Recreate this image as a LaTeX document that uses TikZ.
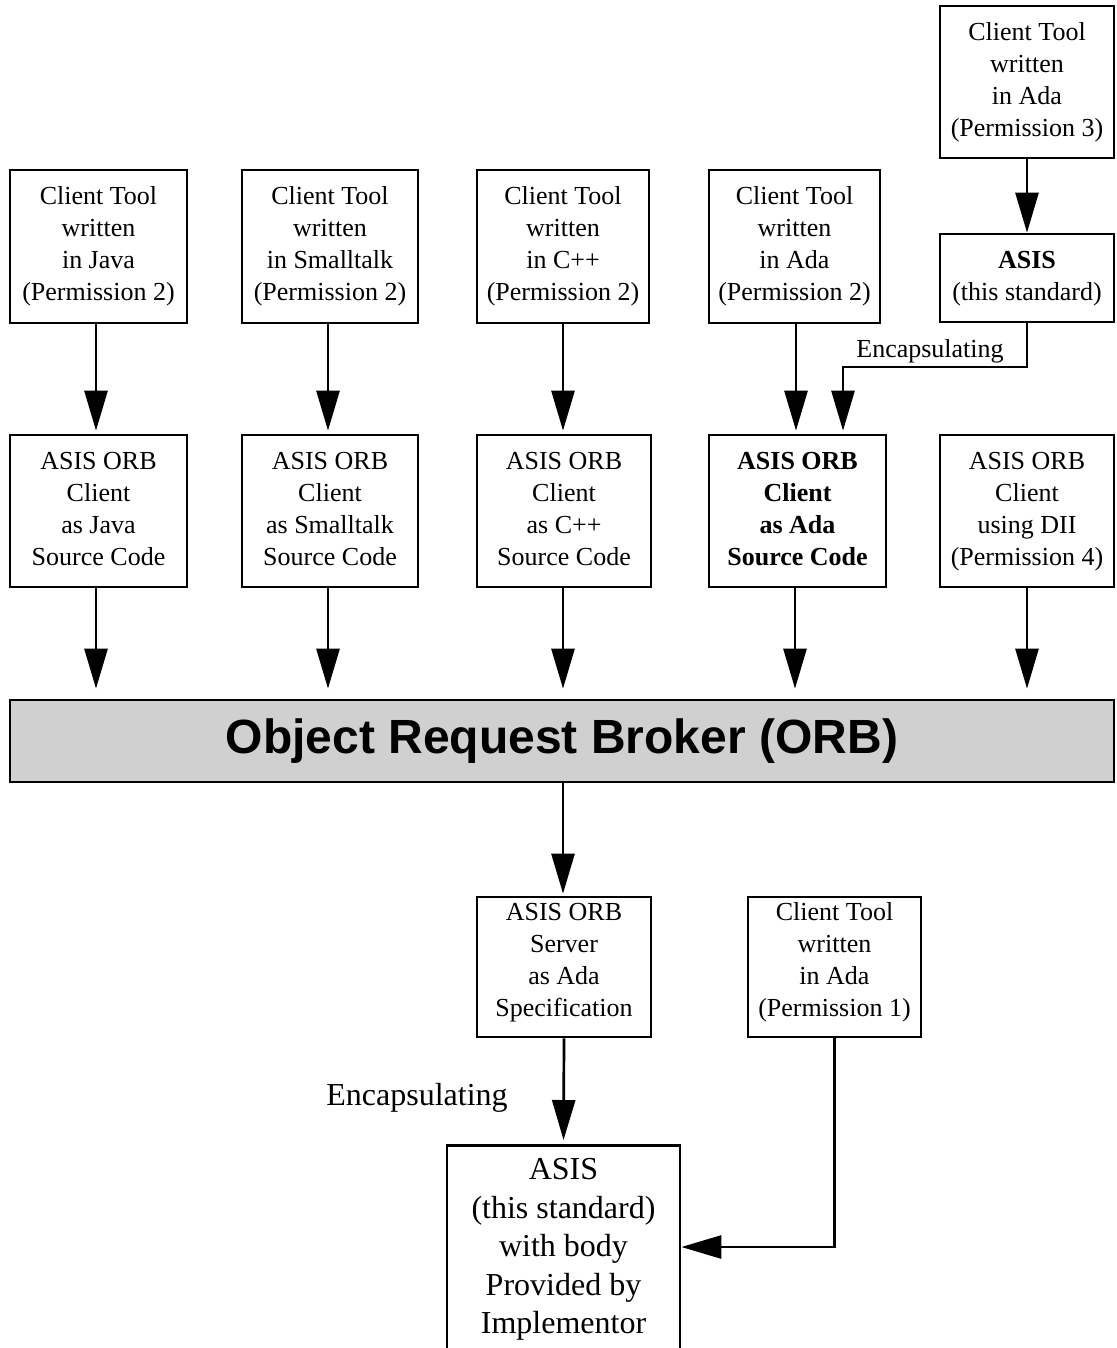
\documentclass[tikz,border=0pt]{standalone}
\usepackage{fontspec}
\setmainfont{Liberation Serif}
\newfontfamily\orbfont{Liberation Sans}
\usetikzlibrary{arrows.meta}
\begin{document}
\begin{tikzpicture}[x=1pt,y=-1pt,
  box/.style={draw,line width=2.7pt,inner sep=0pt,align=center,
    font=\fontsize{26}{32}\selectfont},
  txt/.style={inner sep=0pt,align=center,font=\fontsize{26}{32}\selectfont},
  lbl/.style={inner sep=0pt,font=\fontsize{26}{32}\selectfont},
  conn/.style={line width=2.7pt},
  arr/.style={conn,-{Triangle[length=40pt,width=23pt]}}]
\clip (0,0) rectangle (1116,1348);
\fill[white] (0,0) rectangle (1116,1348);
% top row
\node[box,minimum width=177,minimum height=153] (java1) at (98.5,246.5) {\strut Client Tool\\written\\in Java\\(Permission 2)\strut};
\node[box,minimum width=176,minimum height=153] (small1) at (330,246.5) {\strut Client Tool\\written\\in Smalltalk\\(Permission 2)\strut};
\node[box,minimum width=172,minimum height=153] (cpp1) at (563,246.5) {\strut Client Tool\\written\\in C++\\(Permission 2)\strut};
\node[box,minimum width=171,minimum height=153] (ada1) at (794.5,246.5) {\strut Client Tool\\written\\in Ada\\(Permission 2)\strut};
\node[box,minimum width=174,minimum height=152] (perm3) at (1027,82) {\strut Client Tool\\written\\in Ada\\(Permission 3)\strut};
\node[box,minimum width=174,minimum height=88] (asis) at (1027,278) {\strut\textbf{ASIS}\\(this standard)\strut};
% second row
\node[box,minimum width=177,minimum height=152] (java2) at (98.5,511) {\strut ASIS ORB\\Client\\as Java\\Source Code\strut};
\node[box,minimum width=176,minimum height=152] (small2) at (330,511) {\strut ASIS ORB\\Client\\as Smalltalk\\Source Code\strut};
\node[box,minimum width=174,minimum height=152] (cpp2) at (564,511) {\strut ASIS ORB\\Client\\as C++\\Source Code\strut};
\node[box,minimum width=177,minimum height=152] (ada2) at (797.5,511) {\strut\textbf{ASIS ORB}\\\textbf{Client}\\\textbf{as Ada}\\\textbf{Source Code}\strut};
\node[box,minimum width=174,minimum height=152] (dii2) at (1027,511) {\strut ASIS ORB\\Client\\using DII\\(Permission 4)\strut};
% ORB
\node[draw,line width=2.7pt,fill={rgb,255:red,208;green,208;blue,208},minimum width=1104,minimum height=82,inner sep=0pt,font=\orbfont\bfseries\fontsize{48}{56}\selectfont] (orb) at (562,741) {Object Request Broker (ORB)};
% lower boxes
\node[box,minimum width=174,minimum height=140] (server) at (564,967) {};
\node[txt] (servertext) at (564,962) {\strut ASIS ORB\\Server\\as Ada\\Specification\strut};
\node[box,minimum width=173,minimum height=140] (perm1) at (834.5,967) {};
\node[txt] (perm1text) at (834.5,962) {\strut Client Tool\\written\\in Ada\\(Permission 1)\strut};
\node[draw,line width=2.7pt,minimum width=233,minimum height=240,inner sep=0pt,anchor=north] (asisbox) at (563.5,1144) {};
\node[inner sep=0pt,align=center,font=\fontsize{32}{38.5}\selectfont] (asisboxtext) at (563.5,1249) {\strut ASIS\\(this standard)\\with body\\Provided by\\Implementor\strut};
% labels
\node[lbl] (enc1) at (930,351) {Encapsulating};
\node[inner sep=0pt,font=\fontsize{32}{38}\selectfont] (enc2) at (417,1098) {Encapsulating};
% arrows row1 -> row2
\draw[arr,shorten >=3pt] (java1.south -| 96,0) -- (java2.north -| 96,0);
\draw[arr,shorten >=3pt] (small1.south -| 328,0) -- (small2.north -| 328,0);
\draw[arr,shorten >=3pt] (cpp1.south) -- (cpp1.south |- cpp2.north);
\draw[arr,shorten >=3pt] (ada1.south -| 796,0) -- (ada2.north -| 796,0);
\draw[arr] (perm3.south) -- (asis.north);
\draw[arr,shorten >=3pt] (asis.south) |- (843,367) -- (ada2.north -| 843,0);
% row2 -> ORB
\draw[arr,shorten >=10pt] (java2.south -| 96,0) -- (orb.north -| 96,0);
\draw[arr,shorten >=10pt] (small2.south -| 328,0) -- (orb.north -| 328,0);
\draw[arr,shorten >=10pt] (cpp2.south -| 563,0) -- (orb.north -| 563,0);
\draw[arr,shorten >=10pt] (ada2.south -| 795,0) -- (orb.north -| 795,0);
\draw[arr,shorten >=10pt] (dii2.south) -- (orb.north -| dii2.south);
% ORB -> server
\draw[arr,shorten >=2pt] (orb.south -| 563,0) -- (server.north -| 563,0);
\draw[arr,shorten >=4pt] (server.south) -- (asisbox.north);
\draw[arr] (perm1.south) |- (asisbox.east |- 0,1247);
\end{tikzpicture}
\end{document}
